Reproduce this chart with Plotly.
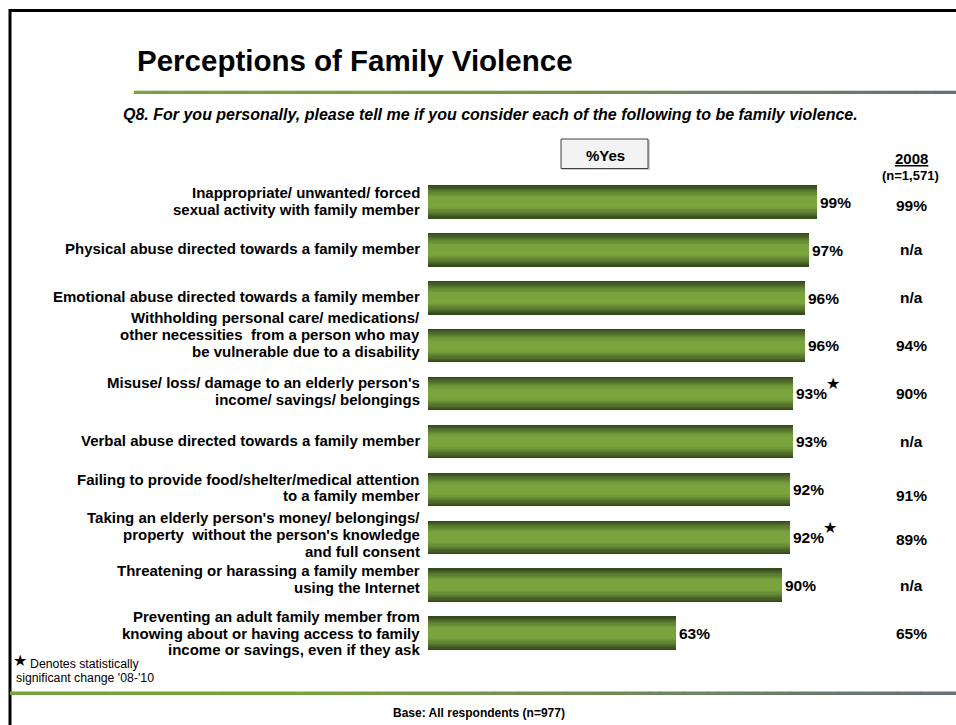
import plotly.graph_objects as go

# ---- data -------------------------------------------------------------
categories = [
    "Inappropriate/ unwanted/ forced<br>sexual activity with family member",
    "Physical abuse directed towards a family member",
    "Emotional abuse directed towards a family member",
    "Withholding personal care/ medications/<br>other necessities  from a person who may<br>be vulnerable due to a disability",
    "Misuse/ loss/ damage to an elderly person's<br>income/ savings/ belongings",
    "Verbal abuse directed towards a family member",
    "Failing to provide food/shelter/medical attention<br>to a family member",
    "Taking an elderly person's money/ belongings/<br>property  without the person's knowledge<br>and full consent",
    "Threatening or harassing a family member<br>using the Internet",
    "Preventing an adult family member from<br>knowing about or having access to family<br>income or savings, even if they ask",
]
pct_yes = [99, 97, 96, 96, 93, 93, 92, 92, 90, 63]
pct_2008 = ["99%", "n/a", "n/a", "94%", "90%", "n/a", "91%", "89%", "n/a", "65%"]
sig_change = [False, False, False, False, True, False, False, True, False, False]

# ---- page geometry (pixels) ------------------------------------------
W, H = 956, 725
FONT = "Arial, Liberation Sans, Helvetica, sans-serif"
BAR_LEFT, BAR_SPAN = 428, 393          # 0% .. 100%
ROW0, PITCH, BAR_H = 202, 47.9, 33.5
LINE_GAP = 16.8
LABEL_SIZE = 15
label_shift = [-1, -1, -1, -11, -3, -1, -2, -3, -6, 0]   # vertical nudge of category text
col2008_shift = [3, 0, 0, 0, 0, 0, 6, 2, 0, 0]


def px(x):
    return x / W


def py(y):
    return 1 - y / H


def mix(a, b, t):
    return "rgb(%d,%d,%d)" % tuple(round(a[i] + (b[i] - a[i]) * t) for i in range(3))


fig = go.Figure()
rows = list(range(len(categories)))

# shaded bars: stacked overlays, darker at the edges, bright in the middle
dark, light = (52, 74, 28), (122, 164, 62)
N = 14
for k in range(N):
    frac = 1 - k / N
    t = min(1.0, max(0.0, (frac - 0.3) / 0.7)) ** 1.2
    fig.add_trace(go.Bar(
        y=rows, x=pct_yes, orientation="h",
        width=BAR_H / PITCH * frac,
        marker=dict(color=mix(light, dark, t), line_width=0),
        text=[f"{v}%" for v in pct_yes] if k == 0 else None,
        textposition="outside" if k == 0 else "none",
        textfont=dict(family=FONT, size=15.5, color="black", weight="bold"),
        constraintext="none", cliponaxis=False,
        hoverinfo="skip", showlegend=False,
    ))

annotations = []

# category labels, one annotation per line, right aligned to the bars
for i, lab in enumerate(categories):
    lines = lab.split("<br>")
    n = len(lines)
    for j, line in enumerate(lines):
        off = (j - (n - 1) / 2) * LINE_GAP + label_shift[i]
        annotations.append(dict(
            x=0, y=i, xref="x", yref="y", xanchor="right", yanchor="middle",
            xshift=-6, yshift=-off, text=line, showarrow=False,
            font=dict(family=FONT, size=LABEL_SIZE, color="black", weight="bold"),
        ))

# significance stars
for i, (v, s) in enumerate(zip(pct_yes, sig_change)):
    if s:
        annotations.append(dict(
            x=v, y=i, xref="x", yref="y", xanchor="left", yanchor="middle",
            xshift=31, yshift=10, text="★", showarrow=False,
            font=dict(family="DejaVu Sans", size=16, color="black"),
        ))

# 2008 comparison column
for i, v in enumerate(pct_2008):
    annotations.append(dict(
        x=px(911), y=i, xref="paper", yref="y", xanchor="center", yanchor="middle",
        yshift=-col2008_shift[i], text=v, showarrow=False,
        font=dict(family=FONT, size=15.5, color="black", weight="bold"),
    ))

annotations += [
    dict(x=px(135), y=py(61), xref="paper", yref="paper", xanchor="left", yanchor="middle",
         text="Perceptions of Family Violence", showarrow=False,
         font=dict(family=FONT, size=29.5, color="black", weight="bold")),
    dict(x=px(491), y=py(115), xref="paper", yref="paper", xanchor="center", yanchor="middle",
         text="<i>Q8. For you personally, please tell me if you consider each of the following to be family violence.</i>",
         showarrow=False, font=dict(family=FONT, size=16, color="black", weight="bold")),
    dict(x=px(605), y=py(155), xref="paper", yref="paper", xanchor="center", yanchor="middle",
         text="%Yes", showarrow=False,
         font=dict(family=FONT, size=15, color="black", weight="bold")),
    dict(x=px(911), y=py(158), xref="paper", yref="paper", xanchor="center", yanchor="middle",
         text="<u>2008</u>", showarrow=False,
         font=dict(family=FONT, size=15, color="black", weight="bold")),
    dict(x=px(910), y=py(176), xref="paper", yref="paper", xanchor="center", yanchor="middle",
         text="(n=1,571)", showarrow=False,
         font=dict(family=FONT, size=13, color="black", weight="bold")),
    dict(x=px(20), y=py(660), xref="paper", yref="paper", xanchor="center", yanchor="middle",
         text="★", showarrow=False, font=dict(family="DejaVu Sans", size=16, color="black")),
    dict(x=px(28), y=py(664), xref="paper", yref="paper", xanchor="left", yanchor="middle",
         text="Denotes statistically", showarrow=False,
         font=dict(family=FONT, size=12.3, color="black")),
    dict(x=px(14), y=py(678), xref="paper", yref="paper", xanchor="left", yanchor="middle",
         text="significant change '08-'10", showarrow=False,
         font=dict(family=FONT, size=12.3, color="black")),
    dict(x=px(479), y=py(713), xref="paper", yref="paper", xanchor="center", yanchor="middle",
         text="Base: All respondents (n=977)", showarrow=False,
         font=dict(family=FONT, size=12, color="black", weight="bold")),
]

shapes = [
    # page frame
    dict(type="line", xref="paper", yref="paper", x0=px(9), x1=px(W), y0=py(10.5), y1=py(10.5),
         line=dict(color="black", width=3)),
    dict(type="line", xref="paper", yref="paper", x0=px(10), x1=px(10), y0=py(9), y1=py(H),
         line=dict(color="black", width=3)),
    # %Yes button
    dict(type="rect", xref="paper", yref="paper", x0=px(562), x1=px(650), y0=py(170), y1=py(140),
         fillcolor="#cfcfcf", line=dict(width=0)),
    dict(type="rect", xref="paper", yref="paper", x0=px(561), x1=px(648), y0=py(168.5), y1=py(139),
         fillcolor="#f3f3f3", line=dict(color="#404040", width=1)),
]


def gradient_rule(x0, x1, y0, y1, stops, steps=80):
    step = (x1 - x0) / steps
    for s in range(steps):
        t = (s + 0.5) / steps
        for (ta, ca), (tb, cb) in zip(stops[:-1], stops[1:]):
            if ta <= t <= tb:
                col = mix(ca, cb, (t - ta) / (tb - ta))
                break
        shapes.append(dict(type="rect", xref="paper", yref="paper",
                           x0=px(x0 + s * step), x1=px(x0 + (s + 1) * step + 0.6),
                           y0=py(y1), y1=py(y0), fillcolor=col, line=dict(width=0)))


green, grey = (120, 163, 60), (104, 112, 121)
gradient_rule(134, W, 90.7, 94, [(0, green), (0.3, green), (1, grey)])
gradient_rule(10, W, 691.5, 695, [(0, green), (0.3, green), (1, grey)])

fig.update_layout(
    width=W, height=H, margin=dict(l=0, r=0, t=0, b=0),
    paper_bgcolor="white", plot_bgcolor="rgba(0,0,0,0)",
    barmode="overlay", bargap=0,
    xaxis=dict(domain=[px(BAR_LEFT), px(BAR_LEFT + BAR_SPAN)], range=[0, 100],
               visible=False, fixedrange=True),
    yaxis=dict(domain=[py(ROW0 + 9.5 * PITCH), py(ROW0 - 0.5 * PITCH)],
               range=[len(categories) - 0.5, -0.5], visible=False, fixedrange=True),
    annotations=annotations, shapes=shapes,
)

fig.write_html("out.html")
